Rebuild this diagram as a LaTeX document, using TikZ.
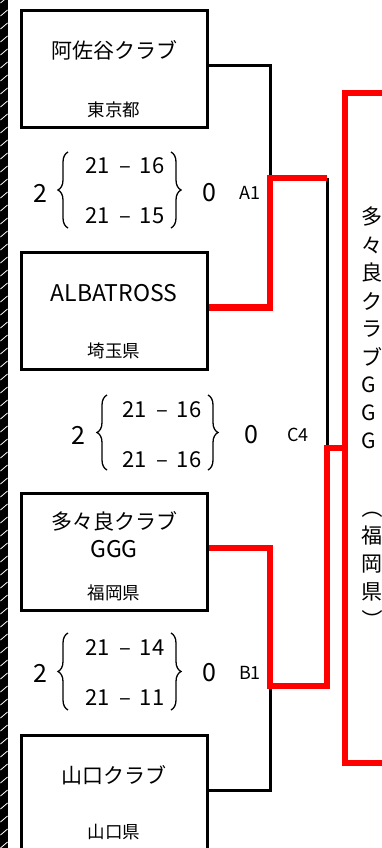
\documentclass[tikz,border=0pt]{standalone}
\usepackage{fontspec}
\setmainfont{Noto Sans CJK JP}
\usetikzlibrary{decorations.pathreplacing}
\tikzset{
  teambox/.style={draw, line width=3pt, minimum width=186pt, minimum height=117pt, inner sep=0pt},
  teamname/.style={font=\fontsize{21}{25}\selectfont, inner sep=0pt},
  latinname/.style={font=\fontsize{23}{27}\selectfont, inner sep=0pt},
  pref/.style={font=\fontsize{17.5}{20}\selectfont, inner sep=0pt},
  setscore/.style={font=\fontsize{22}{26}\selectfont, inner sep=0pt},
  gamescore/.style={font=\fontsize{25}{29}\selectfont, inner sep=0pt},
  matchno/.style={font=\fontsize{18}{21}\selectfont, inner sep=0pt},
  scorebrace/.style={decorate, decoration={brace, amplitude=10pt}, line width=1.3pt},
  plainline/.style={line width=3pt},
  winline/.style={line width=6.5pt, red},
  champtext/.style={font=\fontsize{21}{25}\selectfont, inner sep=0pt, anchor=west},
}
\begin{document}
\begin{tikzpicture}[x=1pt,y=-1pt]
  \useasboundingbox (0,0) rectangle (382,848);
  %hatched border
  \draw[line width=8pt] (4,0) -- (4,848);
  \foreach \y in {0,13,...,858} {
    \draw[white, line width=0.8pt] (0.5,\y+3) -- (7.5,\y-3);
  }
  %
  %teams
  \node[teambox] (asagaya) at (114,69.5) {};
  \node[teamname] (asagaya-name) at (114,50) {阿佐谷クラブ};
  \node[pref] (asagaya-pref) at (114,110) {東京都};
  \node[teambox] (albatross) at (114,311) {};
  \node[latinname] (albatross-name) at (114,293) {ALBATROSS};
  \node[pref] (albatross-pref) at (114,351) {埼玉県};
  \node[teambox] (tatara) at (114,551.5) {};
  \node[teamname] (tatara-name) at (114,521) {多々良クラブ};
  \node[latinname] (tatara-name2) at (114,549) {GGG};
  \node[pref] (tatara-pref) at (114,593) {福岡県};
  \node[teambox] (yamaguchi) at (114,793.5) {};
  \node[teamname] (yamaguchi-name) at (114,775) {山口クラブ};
  \node[pref] (yamaguchi-pref) at (114,832) {山口県};
  %
  %champion
  \node[teambox, draw=red, line width=6.5pt, minimum width=120pt, minimum height=670pt] (champ) at (405,428) {};
  \foreach \ch [count=\i from 0] in {多,々,良,ク,ラ,ブ,G,G,G} {
    \node[champtext] (champ-\i) at (361,217+28*\i) {\ch};
  }
  \node[champtext, anchor=center, rotate=-90] (champ-open) at (372,508) {（};
  \node[champtext] (champ-pref1) at (361,536) {福};
  \node[champtext] (champ-pref2) at (361,564) {岡};
  \node[champtext] (champ-pref3) at (361,592) {県};
  \node[champtext, anchor=center, rotate=-90] (champ-close) at (372,620) {）};
  %
  %match A1
  \node[gamescore] (a1-won) at (40,193) {2};
  \draw[scorebrace] (68,228) -- (68,152);
  \node[setscore] (a1-set1) at (125,166) {21\hspace{9pt}–\hspace{9pt}16};
  \node[setscore] (a1-set2) at (125,216) {21\hspace{9pt}–\hspace{9pt}15};
  \draw[scorebrace] (171,152) -- (171,228);
  \node[gamescore] (a1-lost) at (209,193) {0};
  \node[matchno] (a1-no) at (250,193) {A1};
  %match C4
  \node[gamescore] (c4-won) at (78,435) {2};
  \draw[scorebrace] (107,470) -- (107,395);
  \node[setscore] (c4-set1) at (162,410) {21\hspace{9pt}–\hspace{9pt}16};
  \node[setscore] (c4-set2) at (162,460) {21\hspace{9pt}–\hspace{9pt}16};
  \draw[scorebrace] (208,395) -- (208,470);
  \node[gamescore] (c4-lost) at (251,435) {0};
  \node[matchno] (c4-no) at (298,435) {C4};
  %match B1
  \node[gamescore] (b1-won) at (40,673) {2};
  \draw[scorebrace] (68,710) -- (68,633);
  \node[setscore] (b1-set1) at (125,648) {21\hspace{9pt}–\hspace{9pt}14};
  \node[setscore] (b1-set2) at (125,698) {21\hspace{9pt}–\hspace{9pt}11};
  \draw[scorebrace] (171,633) -- (171,710);
  \node[gamescore] (b1-lost) at (209,673) {0};
  \node[matchno] (b1-no) at (250,673) {B1};
  %
  %bracket lines
  \coordinate (a1) at (270,178);
  \coordinate (b1) at (270,686);
  \coordinate (c4) at (327,448);
  \draw[plainline] ([yshift=3.5pt]asagaya.east) -| (a1);
  \draw[plainline] ([yshift=3.5pt]yamaguchi.east) -| (b1);
  \draw[plainline] (a1 -| c4) -- (c4);
  \draw[winline] ([yshift=3.5pt]albatross.east) -| (a1) -- (a1 -| c4);
  \draw[winline] ([yshift=3.5pt]tatara.east) -| (b1) -- (b1 -| c4) -- (c4) -- (c4 -| champ.west);
\end{tikzpicture}
\end{document}
